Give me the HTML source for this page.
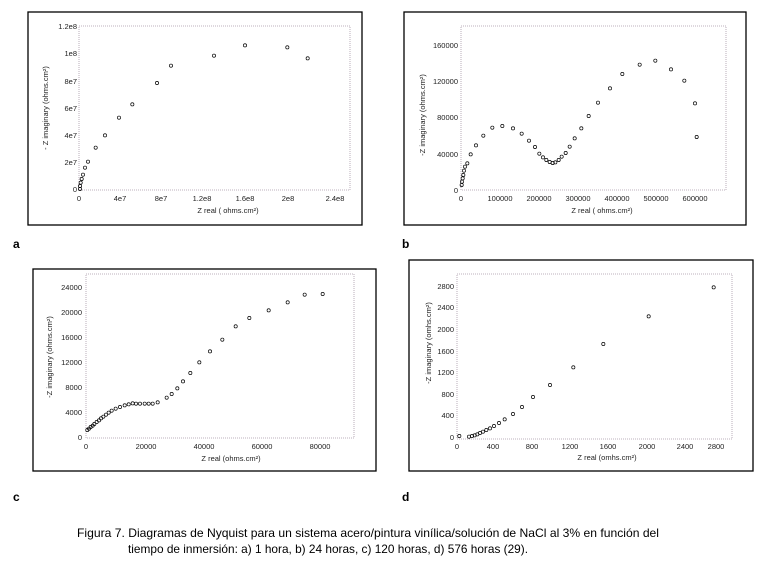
<!DOCTYPE html>
<html><head><meta charset="utf-8"><style>
html,body{margin:0;padding:0;background:#fff;width:766px;height:572px;overflow:hidden}
svg text{font-family:"Liberation Sans",sans-serif}
</style></head><body>
<svg id="s" width="766" height="572" viewBox="0 0 766 572" xmlns="http://www.w3.org/2000/svg">
<g fill="none" stroke="#000" stroke-width="1.3">
<rect x="28" y="12" width="334" height="213"/>
<rect x="404" y="12" width="342" height="213"/>
<rect x="33" y="269" width="343" height="202"/>
<rect x="409" y="260" width="344" height="211"/>
</g>
<g fill="none" stroke="#a898a8" stroke-width="0.8" stroke-dasharray="1,1">
<rect x="79" y="26" width="271" height="164"/>
<rect x="461" y="26" width="265" height="164"/>
<rect x="86" y="274" width="268" height="164"/>
<rect x="457" y="274" width="275" height="165"/>
</g>
<g font-size="7.5" fill="#222">
<!-- a -->
<g text-anchor="end">
<text x="77" y="29">1.2e8</text><text x="77" y="56">1e8</text><text x="77" y="84">8e7</text><text x="77" y="111">6e7</text><text x="77" y="138">4e7</text><text x="77" y="165">2e7</text><text x="77" y="192">0</text>
</g>
<g text-anchor="middle">
<text x="79" y="201">0</text><text x="120" y="201">4e7</text><text x="161" y="201">8e7</text><text x="202" y="201">1.2e8</text><text x="245" y="201">1.6e8</text><text x="288" y="201">2e8</text><text x="335" y="201">2.4e8</text>
<text x="228" y="213">Z real  ( ohms.cm²)</text>
<text transform="translate(48,108) rotate(-90)">- Z imaginary  (ohms.cm²)</text>
</g>
<!-- b -->
<g text-anchor="end">
<text x="458" y="48">160000</text><text x="458" y="84">120000</text><text x="458" y="120">80000</text><text x="458" y="157">40000</text><text x="458" y="193">0</text>
</g>
<g text-anchor="middle">
<text x="461" y="201">0</text><text x="500" y="201">100000</text><text x="539" y="201">200000</text><text x="578" y="201">300000</text><text x="617" y="201">400000</text><text x="656" y="201">500000</text><text x="695" y="201">600000</text>
<text x="602" y="213">Z real  ( ohms.cm²)</text>
<text transform="translate(425,115) rotate(-90)">-Z imaginary  (ohms.cm²)</text>
</g>
<!-- c -->
<g text-anchor="end">
<text x="82" y="290">24000</text><text x="82" y="315">20000</text><text x="82" y="340">16000</text><text x="82" y="365">12000</text><text x="82" y="390">8000</text><text x="82" y="415">4000</text><text x="82" y="440">0</text>
</g>
<g text-anchor="middle">
<text x="86" y="449">0</text><text x="146" y="449">20000</text><text x="204" y="449">40000</text><text x="262" y="449">60000</text><text x="320" y="449">80000</text>
<text x="231" y="461">Z real  (ohms.cm²)</text>
<text transform="translate(52,357) rotate(-90)">-Z imaginary  (ohms.cm²)</text>
</g>
<!-- d -->
<g text-anchor="end">
<text x="454" y="289">2800</text><text x="454" y="310">2400</text><text x="454" y="332">2000</text><text x="454" y="354">1600</text><text x="454" y="375">1200</text><text x="454" y="397">800</text><text x="454" y="418">400</text><text x="454" y="440">0</text>
</g>
<g text-anchor="middle">
<text x="457" y="449">0</text><text x="493" y="449">400</text><text x="532" y="449">800</text><text x="570" y="449">1200</text><text x="608" y="449">1600</text><text x="647" y="449">2000</text><text x="685" y="449">2400</text><text x="716" y="449">2800</text>
<text x="607" y="460">Z real  (omhs.cm²)</text>
<text transform="translate(431,343) rotate(-90)">-Z imaginary  (omhs.cm²)</text>
</g>
</g>
<g font-size="12" font-weight="bold" fill="#000">
<text x="13" y="248">a</text><text x="402" y="248">b</text><text x="13" y="501">c</text><text x="402" y="501">d</text>
</g>
<g font-size="12" fill="#000">
<text x="77" y="537" textLength="582" lengthAdjust="spacingAndGlyphs">Figura 7.  Diagramas de Nyquist para un sistema acero/pintura vinílica/solución de NaCl al 3% en función del</text>
<text x="128" y="553" textLength="400" lengthAdjust="spacingAndGlyphs">tiempo de inmersión: a) 1 hora, b) 24 horas, c) 120 horas, d) 576 horas (29).</text>
</g>
<g id="pts" fill="none" stroke="#000" stroke-width="0.7"></g>
</svg>
<script>
var g=document.getElementById('pts');
function add(list,dx,dy){for(var i=0;i<list.length;i+=2){var c=document.createElementNS('http://www.w3.org/2000/svg','circle');c.setAttribute('cx',list[i]/3+dx);c.setAttribute('cy',list[i+1]/3+dy);c.setAttribute('r',1.6);g.appendChild(c);}}
add([240,567,240,558,242,548,245,537,249,524,255,503,264,485,287,443,315,406,357,353,397,313,471,249,513,197,642,167,735,136,862,142,923,175],0,0);
add([236,555,237,545,239,535,241,525,243,512,246,500,253,490,263,463,279,436,301,407,328,383,358,378,390,385,416,401,438,422,456,441,469,461,480,472,490,480,500,486,509,489,517,487,527,480,536,470,548,459,560,440,575,415,595,385,617,348,645,308,681,265,718,222,770,194,817,182,864,208,904,242,936,310,941,411],383,0);
add([262,540,267,536,272,531,278,527,283,522,290,516,297,511,303,505,310,500,318,494,326,488,335,482,347,476,360,471,374,466,386,463,398,460,408,461,420,461,434,461,446,461,458,461,473,457,500,443,515,432,532,415,549,394,571,369,598,337,630,304,667,269,707,229,748,204,806,181,863,157,914,134,968,132],0,250);
add([229,558,258,560,267,558,275,556,283,553,291,549,300,545,310,540,321,535,333,528,348,519,365,508,390,492,417,471,450,441,501,405,571,352,661,282,797,199,992,112],383,250);
</script>
</body></html>
